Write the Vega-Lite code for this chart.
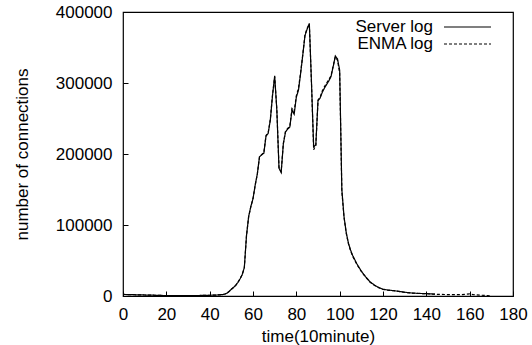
{
  "$schema": "https://vega.github.io/schema/vega-lite/v6.json",
  "width": 390,
  "height": 284,
  "autosize": {"type": "none"},
  "padding": {"left": 123, "top": 12, "right": 19, "bottom": 49},
  "background": "white",
  "data": {
    "values": [
      {"time": 0, "connections": 2200, "log": "Server log"},
      {"time": 5, "connections": 1800, "log": "Server log"},
      {"time": 10, "connections": 1400, "log": "Server log"},
      {"time": 15, "connections": 1000, "log": "Server log"},
      {"time": 20, "connections": 600, "log": "Server log"},
      {"time": 25, "connections": 400, "log": "Server log"},
      {"time": 30, "connections": 500, "log": "Server log"},
      {"time": 35, "connections": 700, "log": "Server log"},
      {"time": 40, "connections": 1000, "log": "Server log"},
      {"time": 44, "connections": 1500, "log": "Server log"},
      {"time": 46, "connections": 2000, "log": "Server log"},
      {"time": 47, "connections": 2800, "log": "Server log"},
      {"time": 48, "connections": 4000, "log": "Server log"},
      {"time": 49, "connections": 6500, "log": "Server log"},
      {"time": 50, "connections": 9500, "log": "Server log"},
      {"time": 51, "connections": 12000, "log": "Server log"},
      {"time": 52, "connections": 15000, "log": "Server log"},
      {"time": 53, "connections": 19000, "log": "Server log"},
      {"time": 54, "connections": 24000, "log": "Server log"},
      {"time": 55, "connections": 30000, "log": "Server log"},
      {"time": 56, "connections": 40000, "log": "Server log"},
      {"time": 57, "connections": 85000, "log": "Server log"},
      {"time": 58, "connections": 112000, "log": "Server log"},
      {"time": 59, "connections": 126000, "log": "Server log"},
      {"time": 60, "connections": 137000, "log": "Server log"},
      {"time": 61, "connections": 156000, "log": "Server log"},
      {"time": 62, "connections": 172000, "log": "Server log"},
      {"time": 63, "connections": 196000, "log": "Server log"},
      {"time": 64, "connections": 199000, "log": "Server log"},
      {"time": 65, "connections": 201000, "log": "Server log"},
      {"time": 66, "connections": 225000, "log": "Server log"},
      {"time": 67, "connections": 229000, "log": "Server log"},
      {"time": 68, "connections": 248000, "log": "Server log"},
      {"time": 69, "connections": 282000, "log": "Server log"},
      {"time": 70, "connections": 310000, "log": "Server log"},
      {"time": 71, "connections": 262000, "log": "Server log"},
      {"time": 72, "connections": 180000, "log": "Server log"},
      {"time": 73, "connections": 174000, "log": "Server log"},
      {"time": 74, "connections": 214000, "log": "Server log"},
      {"time": 75, "connections": 231000, "log": "Server log"},
      {"time": 76, "connections": 235000, "log": "Server log"},
      {"time": 77, "connections": 238000, "log": "Server log"},
      {"time": 78, "connections": 262000, "log": "Server log"},
      {"time": 79, "connections": 256000, "log": "Server log"},
      {"time": 80, "connections": 280000, "log": "Server log"},
      {"time": 81, "connections": 290000, "log": "Server log"},
      {"time": 82, "connections": 314000, "log": "Server log"},
      {"time": 83, "connections": 340000, "log": "Server log"},
      {"time": 84, "connections": 367000, "log": "Server log"},
      {"time": 85, "connections": 376000, "log": "Server log"},
      {"time": 86, "connections": 384000, "log": "Server log"},
      {"time": 87, "connections": 300000, "log": "Server log"},
      {"time": 88, "connections": 210000, "log": "Server log"},
      {"time": 89, "connections": 213000, "log": "Server log"},
      {"time": 90, "connections": 275000, "log": "Server log"},
      {"time": 91, "connections": 279000, "log": "Server log"},
      {"time": 92, "connections": 287000, "log": "Server log"},
      {"time": 93, "connections": 293000, "log": "Server log"},
      {"time": 94, "connections": 298000, "log": "Server log"},
      {"time": 95, "connections": 303000, "log": "Server log"},
      {"time": 96, "connections": 309000, "log": "Server log"},
      {"time": 97, "connections": 323000, "log": "Server log"},
      {"time": 98, "connections": 338000, "log": "Server log"},
      {"time": 99, "connections": 334000, "log": "Server log"},
      {"time": 100, "connections": 318000, "log": "Server log"},
      {"time": 101, "connections": 150000, "log": "Server log"},
      {"time": 102, "connections": 112000, "log": "Server log"},
      {"time": 103, "connections": 90000, "log": "Server log"},
      {"time": 104, "connections": 75000, "log": "Server log"},
      {"time": 105, "connections": 65000, "log": "Server log"},
      {"time": 106, "connections": 57000, "log": "Server log"},
      {"time": 107, "connections": 51000, "log": "Server log"},
      {"time": 108, "connections": 45000, "log": "Server log"},
      {"time": 110, "connections": 35000, "log": "Server log"},
      {"time": 112, "connections": 27000, "log": "Server log"},
      {"time": 114, "connections": 20000, "log": "Server log"},
      {"time": 116, "connections": 15500, "log": "Server log"},
      {"time": 118, "connections": 12000, "log": "Server log"},
      {"time": 120, "connections": 9500, "log": "Server log"},
      {"time": 122, "connections": 8500, "log": "Server log"},
      {"time": 125, "connections": 7500, "log": "Server log"},
      {"time": 128, "connections": 6200, "log": "Server log"},
      {"time": 130, "connections": 5300, "log": "Server log"},
      {"time": 133, "connections": 4300, "log": "Server log"},
      {"time": 136, "connections": 3700, "log": "Server log"},
      {"time": 140, "connections": 3300, "log": "Server log"},
      {"time": 143, "connections": 2800, "log": "Server log"},
      {"time": 144, "connections": 2500, "log": "Server log"},

      {"time": 0, "connections": 2200, "log": "ENMA log"},
      {"time": 5, "connections": 1800, "log": "ENMA log"},
      {"time": 10, "connections": 1400, "log": "ENMA log"},
      {"time": 15, "connections": 1000, "log": "ENMA log"},
      {"time": 20, "connections": 600, "log": "ENMA log"},
      {"time": 25, "connections": 400, "log": "ENMA log"},
      {"time": 30, "connections": 500, "log": "ENMA log"},
      {"time": 35, "connections": 700, "log": "ENMA log"},
      {"time": 40, "connections": 1000, "log": "ENMA log"},
      {"time": 44, "connections": 1500, "log": "ENMA log"},
      {"time": 46, "connections": 2000, "log": "ENMA log"},
      {"time": 47, "connections": 2800, "log": "ENMA log"},
      {"time": 48, "connections": 4000, "log": "ENMA log"},
      {"time": 49, "connections": 6500, "log": "ENMA log"},
      {"time": 50, "connections": 9500, "log": "ENMA log"},
      {"time": 51, "connections": 12000, "log": "ENMA log"},
      {"time": 52, "connections": 15000, "log": "ENMA log"},
      {"time": 53, "connections": 19000, "log": "ENMA log"},
      {"time": 54, "connections": 24000, "log": "ENMA log"},
      {"time": 55, "connections": 30000, "log": "ENMA log"},
      {"time": 56, "connections": 40000, "log": "ENMA log"},
      {"time": 57, "connections": 85000, "log": "ENMA log"},
      {"time": 58, "connections": 112000, "log": "ENMA log"},
      {"time": 59, "connections": 126000, "log": "ENMA log"},
      {"time": 60, "connections": 137000, "log": "ENMA log"},
      {"time": 61, "connections": 156000, "log": "ENMA log"},
      {"time": 62, "connections": 172000, "log": "ENMA log"},
      {"time": 63, "connections": 196000, "log": "ENMA log"},
      {"time": 64, "connections": 199000, "log": "ENMA log"},
      {"time": 65, "connections": 202000, "log": "ENMA log"},
      {"time": 66, "connections": 226000, "log": "ENMA log"},
      {"time": 67, "connections": 230000, "log": "ENMA log"},
      {"time": 68, "connections": 249000, "log": "ENMA log"},
      {"time": 69, "connections": 283000, "log": "ENMA log"},
      {"time": 70, "connections": 309000, "log": "ENMA log"},
      {"time": 71, "connections": 263000, "log": "ENMA log"},
      {"time": 72, "connections": 181000, "log": "ENMA log"},
      {"time": 73, "connections": 175000, "log": "ENMA log"},
      {"time": 74, "connections": 215000, "log": "ENMA log"},
      {"time": 75, "connections": 232000, "log": "ENMA log"},
      {"time": 76, "connections": 236000, "log": "ENMA log"},
      {"time": 77, "connections": 239000, "log": "ENMA log"},
      {"time": 78, "connections": 264000, "log": "ENMA log"},
      {"time": 79, "connections": 260000, "log": "ENMA log"},
      {"time": 80, "connections": 282000, "log": "ENMA log"},
      {"time": 81, "connections": 293000, "log": "ENMA log"},
      {"time": 82, "connections": 315000, "log": "ENMA log"},
      {"time": 83, "connections": 341000, "log": "ENMA log"},
      {"time": 84, "connections": 368000, "log": "ENMA log"},
      {"time": 85, "connections": 377000, "log": "ENMA log"},
      {"time": 86, "connections": 383000, "log": "ENMA log"},
      {"time": 87, "connections": 299000, "log": "ENMA log"},
      {"time": 88, "connections": 206000, "log": "ENMA log"},
      {"time": 89, "connections": 212000, "log": "ENMA log"},
      {"time": 90, "connections": 276000, "log": "ENMA log"},
      {"time": 91, "connections": 280000, "log": "ENMA log"},
      {"time": 92, "connections": 289000, "log": "ENMA log"},
      {"time": 93, "connections": 295000, "log": "ENMA log"},
      {"time": 94, "connections": 300000, "log": "ENMA log"},
      {"time": 95, "connections": 305000, "log": "ENMA log"},
      {"time": 96, "connections": 310000, "log": "ENMA log"},
      {"time": 97, "connections": 324000, "log": "ENMA log"},
      {"time": 98, "connections": 337000, "log": "ENMA log"},
      {"time": 99, "connections": 332000, "log": "ENMA log"},
      {"time": 100, "connections": 314000, "log": "ENMA log"},
      {"time": 101, "connections": 148000, "log": "ENMA log"},
      {"time": 102, "connections": 111000, "log": "ENMA log"},
      {"time": 103, "connections": 89000, "log": "ENMA log"},
      {"time": 104, "connections": 74000, "log": "ENMA log"},
      {"time": 105, "connections": 64000, "log": "ENMA log"},
      {"time": 106, "connections": 56000, "log": "ENMA log"},
      {"time": 107, "connections": 50000, "log": "ENMA log"},
      {"time": 108, "connections": 44000, "log": "ENMA log"},
      {"time": 110, "connections": 34500, "log": "ENMA log"},
      {"time": 112, "connections": 26500, "log": "ENMA log"},
      {"time": 114, "connections": 19500, "log": "ENMA log"},
      {"time": 116, "connections": 15000, "log": "ENMA log"},
      {"time": 118, "connections": 11800, "log": "ENMA log"},
      {"time": 120, "connections": 9300, "log": "ENMA log"},
      {"time": 122, "connections": 8400, "log": "ENMA log"},
      {"time": 125, "connections": 7400, "log": "ENMA log"},
      {"time": 128, "connections": 6100, "log": "ENMA log"},
      {"time": 130, "connections": 5200, "log": "ENMA log"},
      {"time": 133, "connections": 4200, "log": "ENMA log"},
      {"time": 136, "connections": 3600, "log": "ENMA log"},
      {"time": 140, "connections": 3200, "log": "ENMA log"},
      {"time": 143, "connections": 2700, "log": "ENMA log"},
      {"time": 145, "connections": 2300, "log": "ENMA log"},
      {"time": 150, "connections": 2000, "log": "ENMA log"},
      {"time": 155, "connections": 1800, "log": "ENMA log"},
      {"time": 158, "connections": 2300, "log": "ENMA log"},
      {"time": 160, "connections": 3000, "log": "ENMA log"},
      {"time": 162, "connections": 1800, "log": "ENMA log"},
      {"time": 165, "connections": 1200, "log": "ENMA log"},
      {"time": 168, "connections": 600, "log": "ENMA log"},
      {"time": 170, "connections": 0, "log": "ENMA log"}
    ]
  },
  "mark": {"type": "line", "strokeWidth": 1.2, "interpolate": "linear", "clip": true},
  "encoding": {
    "x": {
      "field": "time",
      "type": "quantitative",
      "scale": {"domain": [0, 180], "nice": false},
      "axis": {
        "values": [0, 20, 40, 60, 80, 100, 120, 140, 160, 180],
        "title": "time(10minute)",
        "titleX": 195,
        "titleY": 45,
        "titleBaseline": "alphabetic",
        "labelPadding": 15
      }
    },
    "y": {
      "field": "connections",
      "type": "quantitative",
      "scale": {"domain": [0, 400000], "nice": false},
      "axis": {
        "values": [0, 100000, 200000, 300000, 400000],
        "format": "d",
        "title": "number of connections",
        "titleX": -101,
        "titleY": 142,
        "titleAngle": -90,
        "titleBaseline": "middle",
        "titleAlign": "center",
        "labelPadding": 16
      }
    },
    "color": {
      "field": "log",
      "type": "nominal",
      "scale": {"domain": ["Server log", "ENMA log"], "range": ["#000000", "#000000"]},
      "legend": {"title": null, "encode": {"entries": {"update": {"width": {"value": 60}, "height": {"value": 17}}}}}
    },
    "strokeDash": {
      "field": "log",
      "type": "nominal",
      "scale": {"domain": ["Server log", "ENMA log"], "range": [[1, 0], [3, 2]]},
      "legend": {"title": null, "encode": {"entries": {"update": {"width": {"value": 60}, "height": {"value": 17}}}}}
    }
  },
  "config": {
    "font": "Liberation Sans",
    "view": {"stroke": "#000000", "strokeWidth": 1.2},
    "axis": {
      "grid": false,
      "domain": false,
      "tickSize": -5,
      "tickColor": "#000000",
      "tickWidth": 1,
      "labelColor": "#000000",
      "labelFontSize": 17,
      "labelFont": "Liberation Sans",
      "labelFlush": false,
      "labelOverlap": false,
      "titleColor": "#000000",
      "titleFontSize": 17,
      "titleFont": "Liberation Sans",
      "titleFontWeight": "normal"
    },
    "legend": {
      "orient": "none",
      "legendX": 320,
      "legendY": 6.5,
      "padding": 0,
      "symbolType": "stroke",
      "symbolSize": 2209,
      "symbolStrokeWidth": 1.2,
      "symbolStrokeColor": "#000000",
      "symbolOffset": 0,
      "clipHeight": 17,
      "rowPadding": -3,
      "labelAlign": "right",
      "labelOffset": -59,
      "labelFontSize": 17,
      "labelFont": "Liberation Sans",
      "labelColor": "#000000",
      "labelLimit": 200
    }
  }
}
